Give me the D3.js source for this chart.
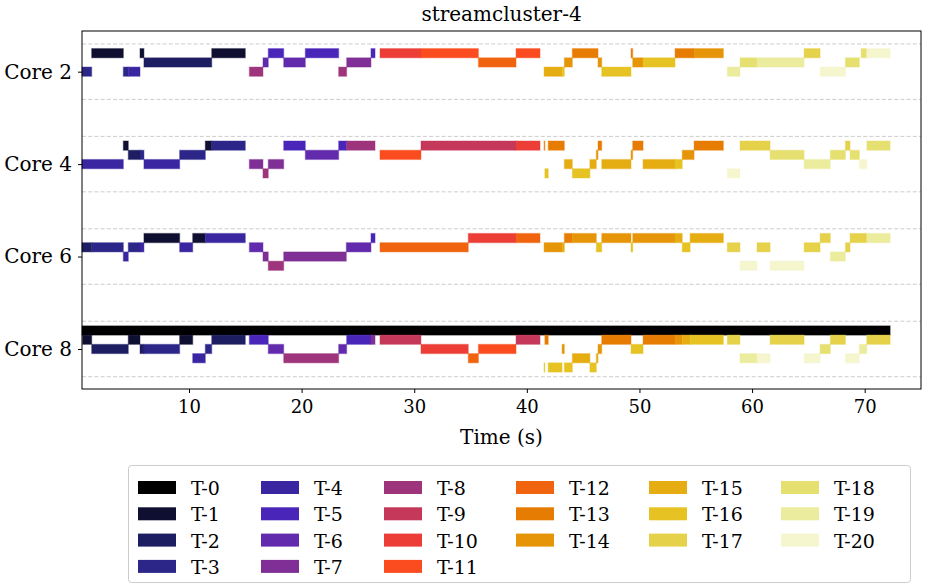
<!DOCTYPE html>
<html>
<head>
<meta charset="utf-8">
<script src="https://cdn.jsdelivr.net/npm/d3@7"></script>
<style>
  body { margin: 0; background: #fff; }
  svg text { font-family: "DejaVu Serif", serif; fill: #000; }
</style>
</head>
<body>
<svg id="chart" width="928" height="584"></svg>
<script>
'use strict'

var title = 'streamcluster-4';
var cores = ['Core 2', 'Core 4', 'Core 6', 'Core 8'];
var threads = ['T-0', 'T-1', 'T-2', 'T-3', 'T-4', 'T-5', 'T-6', 'T-7', 'T-8', 'T-9', 'T-10',
  'T-11', 'T-12', 'T-13', 'T-14', 'T-15', 'T-16', 'T-17', 'T-18', 'T-19', 'T-20'];
var xTicks = [10, 20, 30, 40, 50, 60, 70];

// [thread, lane, start (s), end (s)]
var core2 = [
  [3, 2, 0.5, 1.36], [1, 0, 1.36, 4.17], [3, 2, 4.17, 4.61], [4, 2, 4.61, 5.65],
  [1, 0, 5.65, 6.0], [2, 1, 6.0, 12.02], [1, 0, 12.02, 15.0], [8, 2, 15.36, 16.57],
  [6, 1, 16.57, 17.04], [5, 0, 17.04, 18.41], [6, 1, 18.41, 20.33], [5, 0, 20.33, 23.29],
  [8, 2, 23.29, 24.0], [7, 1, 24.0, 26.16], [5, 0, 26.16, 26.52], [10, 0, 26.96, 30.6],
  [11, 0, 30.6, 35.7], [12, 1, 35.7, 39.04], [11, 0, 39.04, 41.17], [15, 2, 41.53, 43.13],
  [16, 2, 43.13, 43.33], [14, 1, 43.33, 44.04], [13, 0, 44.04, 46.32], [14, 1, 46.32, 46.65],
  [16, 2, 46.65, 49.25], [13, 0, 49.25, 49.4], [14, 1, 49.4, 50.32], [16, 1, 50.32, 53.16],
  [13, 0, 53.16, 54.85], [14, 0, 54.85, 57.45], [19, 2, 57.8, 58.93], [18, 1, 58.93, 60.44],
  [19, 1, 60.44, 64.62], [17, 0, 64.62, 66.04], [20, 2, 66.04, 68.29], [18, 1, 68.29, 69.53],
  [18, 0, 69.68, 70.19], [20, 0, 70.19, 72.26]
];
var core4 = [
  [4, 2, 0.5, 4.17], [1, 0, 4.17, 4.61], [2, 1, 4.61, 5.65], [3, 1, 5.65, 6.0],
  [4, 2, 6.0, 9.17], [3, 1, 9.17, 11.45], [1, 0, 11.45, 12.02], [3, 0, 12.02, 15.0],
  [7, 2, 15.36, 16.57], [8, 3, 16.57, 17.04], [7, 2, 17.04, 18.41], [5, 0, 18.41, 20.33],
  [6, 1, 20.33, 23.29], [5, 0, 23.29, 24.0], [8, 0, 24.0, 26.52], [11, 1, 26.96, 30.6],
  [9, 0, 30.6, 39.04], [10, 0, 39.04, 41.17], [13, 0, 41.53, 41.6], [16, 3, 41.6, 41.9],
  [13, 0, 41.9, 43.33], [15, 2, 43.33, 44.04], [16, 3, 44.04, 45.6], [15, 2, 45.6, 46.17],
  [14, 1, 46.17, 46.32], [13, 0, 46.32, 46.65], [15, 2, 46.65, 49.25], [14, 1, 49.25, 49.4],
  [13, 0, 49.4, 50.32], [15, 2, 50.32, 53.16], [16, 2, 53.16, 53.8], [14, 1, 53.8, 54.85],
  [13, 0, 54.85, 57.45], [20, 3, 57.8, 58.93], [17, 0, 58.93, 61.6], [18, 1, 61.6, 64.62],
  [19, 2, 64.62, 66.95], [18, 1, 66.95, 68.29], [17, 0, 68.29, 68.7], [18, 1, 68.7, 69.53],
  [20, 2, 69.53, 70.19], [18, 0, 70.19, 72.26]
];
var core6 = [
  [2, 1, 0.5, 1.36], [3, 1, 1.36, 4.17], [4, 2, 4.17, 4.61], [3, 1, 4.61, 5.65],
  [4, 1, 5.65, 6.0], [1, 0, 6.0, 9.17], [4, 1, 9.17, 10.33], [1, 0, 10.33, 11.45],
  [4, 0, 11.45, 15.0], [6, 1, 15.36, 16.57], [7, 2, 16.57, 17.04], [8, 3, 17.04, 18.41],
  [7, 2, 18.41, 23.97], [6, 1, 23.97, 26.16], [5, 0, 26.16, 26.52], [12, 1, 26.96, 34.8],
  [10, 0, 34.8, 39.04], [12, 0, 39.04, 41.17], [14, 1, 41.53, 43.13], [15, 1, 43.13, 43.33],
  [13, 0, 43.33, 44.04], [14, 0, 44.04, 46.17], [16, 1, 46.17, 46.65], [14, 0, 46.65, 49.25],
  [16, 1, 49.25, 49.4], [14, 0, 49.4, 53.16], [15, 0, 53.16, 53.8], [16, 1, 53.8, 54.5],
  [15, 0, 54.5, 57.45], [17, 1, 57.8, 58.93], [20, 3, 58.93, 60.44], [17, 1, 60.44, 61.6],
  [20, 3, 61.6, 64.62], [17, 1, 64.62, 66.04], [17, 0, 66.04, 66.95], [19, 2, 66.95, 68.29],
  [17, 1, 68.29, 68.7], [17, 0, 68.7, 70.19], [19, 0, 70.19, 72.26]
];
var core8 = [
  [0, 0, 0.5, 72.26], [1, 1, 0.55, 1.36], [2, 2, 1.36, 4.61], [1, 1, 4.61, 5.65],
  [2, 2, 5.65, 6.0], [3, 2, 6.0, 9.17], [1, 1, 9.17, 10.33], [4, 3, 10.33, 11.45],
  [3, 2, 11.45, 12.02], [2, 1, 12.02, 15.0], [5, 1, 15.36, 17.04], [6, 2, 17.04, 18.41],
  [8, 3, 18.41, 23.29], [6, 2, 23.29, 24.0], [5, 1, 24.0, 26.16], [7, 1, 26.16, 26.52],
  [9, 1, 26.96, 30.6], [10, 2, 30.6, 34.8], [12, 3, 34.8, 35.7], [11, 2, 35.7, 39.04],
  [9, 1, 39.04, 41.17], [16, 4, 41.53, 41.6], [13, 1, 41.6, 41.9], [16, 4, 41.9, 43.13],
  [14, 2, 43.13, 43.33], [16, 4, 43.33, 44.04], [15, 3, 44.04, 45.6], [16, 4, 45.6, 46.17],
  [15, 3, 46.17, 46.32], [14, 2, 46.32, 46.65], [13, 1, 46.65, 49.25], [16, 2, 49.25, 50.32],
  [13, 1, 50.32, 53.16], [14, 1, 53.16, 53.8], [15, 1, 53.8, 54.5], [16, 1, 54.5, 57.45],
  [17, 1, 57.8, 58.93], [19, 3, 58.93, 60.44], [20, 3, 60.44, 61.6], [17, 1, 61.6, 64.62],
  [20, 3, 64.62, 66.04], [18, 2, 66.04, 66.95], [17, 1, 66.95, 68.29], [20, 3, 68.29, 69.53],
  [19, 2, 69.53, 70.19], [17, 1, 70.19, 72.26]
];

// matplotlib CMRmap, sampled at i / 21
var cmrStops = [
  [0, 0, 0], [0.15, 0.15, 0.5], [0.3, 0.15, 0.75], [0.6, 0.2, 0.5], [1, 0.25, 0.15],
  [0.9, 0.5, 0], [0.9, 0.75, 0.1], [0.9, 0.9, 0.5], [1, 1, 1]
];
function cmr(t){
  var p = t * 8, i = Math.min(7, Math.floor(p)), f = p - i;
  var a = cmrStops[i], b = cmrStops[i + 1];
  return d3.rgb(
    255 * (a[0] + (b[0] - a[0]) * f),
    255 * (a[1] + (b[1] - a[1]) * f),
    255 * (a[2] + (b[2] - a[2]) * f)
  ).formatHex();
}
function color(k){ return cmr(k / threads.length); }

function draw(){
  var svg = d3.select('#chart');
  var pLeft = 82, pRight = 921, pTop = 31, pBottom = 389;

  var x = d3.scaleLinear().domain([0.5, 75.0]).range([pLeft, pRight]);
  // lanes: core i has lanes at 10*i + lane, centred on 10*i + 2.5
  var y = d3.scaleLinear().domain([-1.9, 36.83]).range([pTop, pBottom]);

  var plot = svg.append('g');

  // dashed separators around each core band
  cores.forEach(function(c, i){
    [10 * i - 0.5, 10 * i + 5.5].forEach(function(v){
      plot.append('line')
        .attr('x1', pLeft).attr('x2', pRight)
        .attr('y1', y(v)).attr('y2', y(v))
        .attr('stroke', '#cccccc')
        .attr('stroke-width', 1)
        .attr('stroke-dasharray', '4,2.2');
    });
  });

  var segs = [];
  [core2, core4, core6, core8].forEach(function(list, i){
    list.forEach(function(s){
      segs.push({ core: i, thread: s[0], lane: s[1], start: s[2], end: s[3] });
    });
  });

  plot.selectAll('rect.seg')
    .data(segs)
    .enter()
    .append('rect')
    .attr('class', 'seg')
    .attr('x', function(d){ return x(d.start); })
    .attr('width', function(d){ return Math.max(0.5, x(d.end) - x(d.start)); })
    .attr('y', function(d){ return y(10 * d.core + d.lane); })
    .attr('height', function(d){ return y(1) - y(0); })
    .attr('fill', function(d){ return color(d.thread); })
    .attr('stroke', function(d){ return color(d.thread); })
    .attr('stroke-opacity', 0.35)
    .attr('stroke-width', 1.2);

  // frame
  svg.append('rect')
    .attr('x', pLeft).attr('y', pTop)
    .attr('width', pRight - pLeft).attr('height', pBottom - pTop)
    .attr('fill', 'none')
    .attr('stroke', '#000')
    .attr('stroke-width', 1);

  var xAxis = svg.append('g')
    .attr('transform', 'translate(0,' + pBottom + ')')
    .call(d3.axisBottom(x).tickValues(xTicks).tickSize(4).tickPadding(7));
  xAxis.select('.domain').remove();
  xAxis.selectAll('text')
    .style('font-family', '"DejaVu Serif", serif')
    .style('font-size', '18px');

  var yAxis = svg.append('g')
    .attr('transform', 'translate(' + pLeft + ',0)')
    .call(d3.axisLeft(y)
      .tickValues(cores.map(function(c, i){ return 10 * i + 2.5; }))
      .tickFormat(function(d, i){ return cores[i]; })
      .tickSize(4).tickPadding(6));
  yAxis.select('.domain').remove();
  yAxis.selectAll('text')
    .style('font-family', '"DejaVu Serif", serif')
    .style('font-size', '20px');

  svg.append('text')
    .attr('x', (pLeft + pRight) / 2)
    .attr('y', 21)
    .attr('text-anchor', 'middle')
    .style('font-size', '20px')
    .text(title);

  svg.append('text')
    .attr('x', (pLeft + pRight) / 2)
    .attr('y', 444)
    .attr('text-anchor', 'middle')
    .style('font-size', '20px')
    .text('Time (s)');

  // legend, 6 columns filled top to bottom
  var legend = svg.append('g');
  legend.append('rect')
    .attr('x', 128.5).attr('y', 465.5)
    .attr('width', 782).attr('height', 117)
    .attr('rx', 3)
    .attr('fill', '#fff')
    .attr('stroke', '#cccccc');

  var colX = [138, 261, 384, 516, 649, 781];
  var perCol = [4, 4, 4, 3, 3, 3];
  var idx = 0;
  perCol.forEach(function(n, c){
    for (var r = 0; r < n; r++) {
      var g = legend.append('g')
        .attr('transform', 'translate(' + colX[c] + ',' + (488 + r * 26.3) + ')');
      g.append('rect')
        .attr('x', 0).attr('y', -7)
        .attr('width', 38).attr('height', 13)
        .attr('fill', color(idx));
      g.append('text')
        .attr('x', 53).attr('y', 7)
        .style('font-size', '19px')
        .text(threads[idx]);
      idx++;
    }
  });
}

draw();
</script>
</body>
</html>
